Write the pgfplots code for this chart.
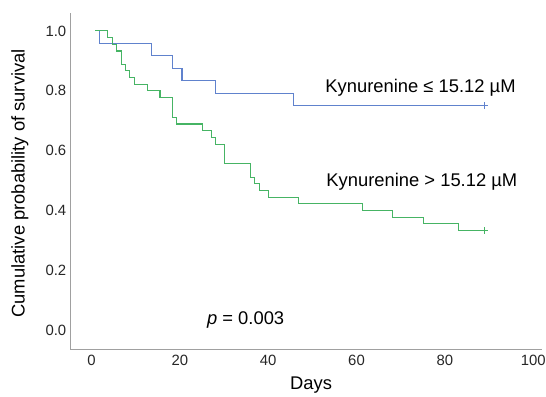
\documentclass[border=0pt]{standalone}
\usepackage{fontspec}
\setmainfont{Liberation Sans}
\usepackage{pgfplots}
\pgfplotsset{compat=1.18}
\definecolor{kmblue}{RGB}{96,130,205}
\definecolor{kmgreen}{RGB}{70,180,100}
\definecolor{axgray}{RGB}{160,160,160}
\begin{document}
\begin{tikzpicture}
\path[use as bounding box] (-71bp,-47bp) rectangle (477bp,351bp);
\begin{axis}[
  at={(0,0)}, anchor=south west,
  scale only axis,
  width=473bp, height=338bp,
  xmin=-4.7, xmax=102,
  ymin=-0.065, ymax=1.06,
  axis x line=bottom, axis y line=left,
  axis line style={-, axgray, line width=1.3bp},
  major tick length=0pt,
  xtick={0,20,40,60,80,100},
  ytick={0,0.2,0.4,0.6,0.8,1.0},
  yticklabel style={/pgf/number format/fixed, /pgf/number format/precision=1, /pgf/number format/fixed zerofill, xshift=-1bp},
  xticklabel style={yshift=-2bp},
  /pgf/number format/assume math mode=true,
  tick label style={font=\fontsize{15}{18}\selectfont, text=black!85},
  xlabel={Days}, ylabel={Cumulative probability of survival},
  label style={font=\fontsize{18.5}{22}\selectfont},
  xlabel style={at={(axis description cs:0.51,-0.105)}, anchor=center},
  ylabel style={at={(axis description cs:-0.108,0.494)}, anchor=center},
  clip=false,
]
\addplot[const plot, color=kmblue, line width=1.1bp] coordinates {
(0.9,1.0) (1.8,0.958) (13.5,0.917) (18.3,0.875) (20.5,0.833) (28.1,0.792) (45.8,0.750) (88.9,0.750)
};
\addplot[const plot, color=kmgreen, line width=1.1bp] coordinates {
(0.9,1.0) (3.7,0.978) (4.7,0.956) (5.6,0.933) (6.7,0.889) (7.7,0.867) (8.7,0.844) (9.7,0.822)
(12.6,0.800) (15.5,0.778) (18.4,0.711) (19.3,0.689) (25.1,0.667) (27.2,0.644) (28.1,0.622)
(30.1,0.556) (36.0,0.511) (37.0,0.489) (38.1,0.467) (40.0,0.444) (46.8,0.422) (61.4,0.400)
(68.2,0.378) (75.2,0.356) (83.1,0.333) (88.9,0.333)
};
\addplot[only marks, mark=+, mark size=3.5bp, color=kmblue, line width=1.1bp] coordinates {(88.9,0.750)};
\addplot[only marks, mark=+, mark size=3.5bp, color=kmgreen, line width=1.1bp] coordinates {(88.9,0.333)};
\node[anchor=base, font=\fontsize{18.5}{22}\selectfont, inner sep=0pt] at (axis cs:74.5,0.793) {Kynurenine ≤ 15.12 µM};
\node[anchor=base, font=\fontsize{18.5}{22}\selectfont, inner sep=0pt] at (axis cs:74.8,0.48) {Kynurenine > 15.12 µM};
\node[anchor=base, font=\fontsize{18.5}{22}\selectfont, inner sep=0pt] at (axis cs:34.9,0.019) {\textit{p} = 0.003};
\end{axis}
\end{tikzpicture}
\end{document}
